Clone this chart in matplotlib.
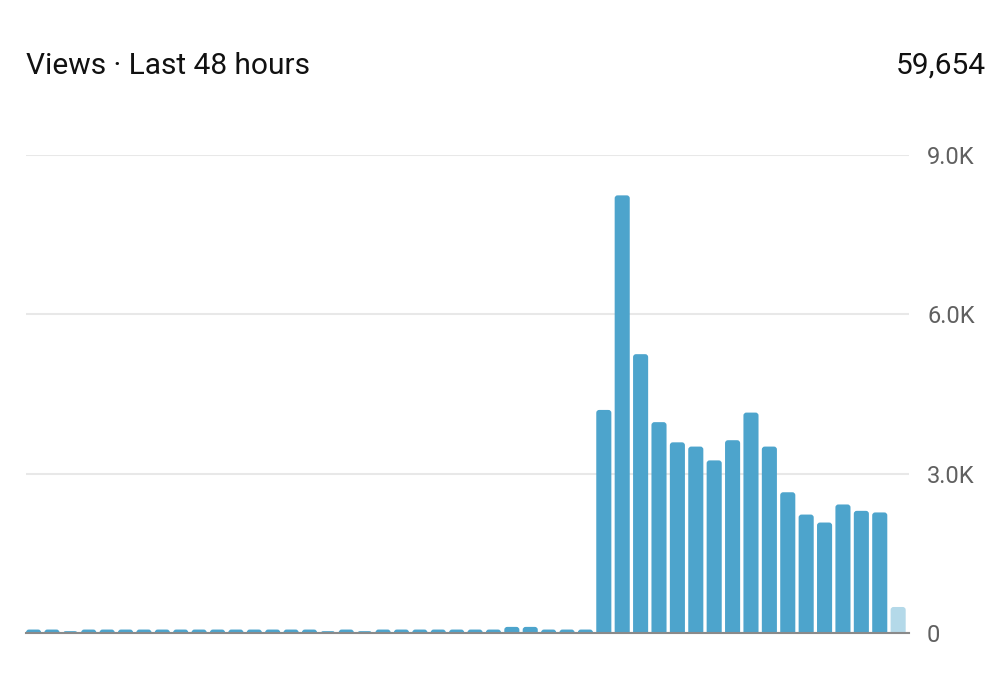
import numpy as np
import matplotlib.pyplot as plt
from matplotlib.patches import FancyBboxPatch

# views per hour, oldest first (last hour is still in progress)
hours = np.arange(48)
views = [
    65, 65, 35, 65, 65, 65, 65, 65, 65, 65,
    65, 65, 65, 65, 65, 65, 35, 65, 35, 65,
    65, 65, 65, 65, 65, 65, 115, 115, 65, 65,
    65, 4200, 8240, 5250, 3970, 3590, 3510, 3250, 3630, 4150,
    3510, 2650, 2230, 2080, 2420, 2300, 2270, 490,
]
yticks = [0, 3000, 6000, 9000]
ytick_labels = ["0", "3.0K", "6.0K", "9.0K"]
title = "Views \u00b7 Last 48 hours"
total = "59,654"

BLUE = "#4da4cc"
LIGHT = "#b4d9e9"

plt.rcParams['font.family'] = ['Roboto', 'DejaVu Sans']

fig = plt.figure(figsize=(10.08, 6.74), dpi=100)
ax = fig.add_axes([26 / 1008, 41 / 674, 883 / 1008, 478 / 674])

ax.set_xlim(-0.41, 47.59)
ax.set_ylim(0, 9000)

# bars with slightly rounded tops; the bottom rounding is hidden below zero
bar_w = 0.82
rx = 0.16                                   # corner radius in x units (~3 px)
aspect = (9000 / 478) / (48 / 883)          # y units per x unit on screen
ry = rx * aspect
colors = [BLUE] * (len(views) - 1) + [LIGHT]
for h, v, c in zip(hours, views, colors):
    box = FancyBboxPatch((h - bar_w / 2, -ry), bar_w, v + ry,
                         boxstyle=f"round,pad=0,rounding_size={rx}",
                         mutation_aspect=aspect, facecolor=c,
                         edgecolor='none', zorder=3)
    ax.add_patch(box)

ax.set_yticks(yticks)
ax.set_yticklabels(ytick_labels)
ax.yaxis.tick_right()
ax.tick_params(axis='y', length=0, pad=13, labelsize=17, labelcolor="#606060")
ax.set_xticks([])
ax.grid(axis='y', color="#e8e8e8", linewidth=1.5, zorder=0)

for side in ['top', 'left', 'right']:
    ax.spines[side].set_visible(False)
ax.spines['bottom'].set_color("#8a8a8a")
ax.spines['bottom'].set_linewidth(1.5)
ax.spines['bottom'].set_zorder(4)

fig.text(26 / 1008, 1 - 66 / 674, title, fontsize=21.5, color="#111111",
         ha='left', va='center')
fig.text(986 / 1008, 1 - 66 / 674, total, fontsize=21.5, color="#111111",
         ha='right', va='center')

fig.savefig("out.png", dpi=100)
